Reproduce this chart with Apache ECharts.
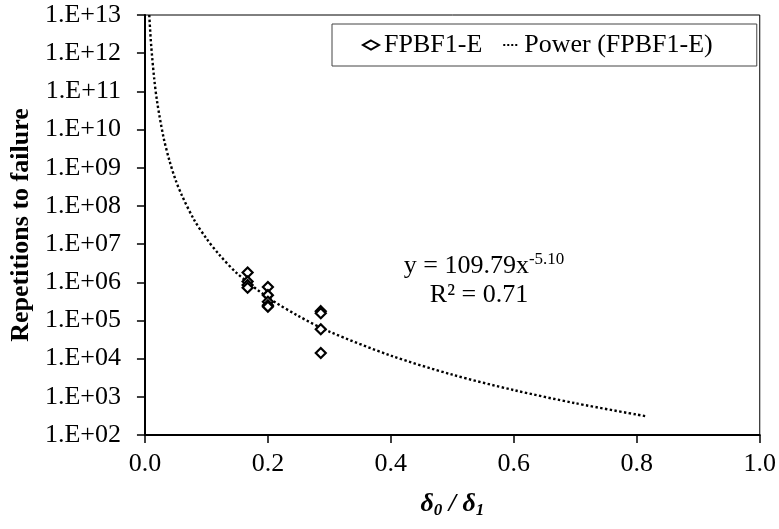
<!DOCTYPE html>
<html>
<head>
<meta charset="utf-8">
<script src="https://cdn.jsdelivr.net/npm/echarts@6/dist/echarts.min.js"></script>
<style>
html, body { margin: 0; padding: 0; background: #fff; }
#main { width: 779px; height: 529px; }
</style>
</head>
<body>
<div id="main"></div>
<script>
// measured points, delta0/delta1 vs repetitions
var testX = [0.167, 0.167, 0.167, 0.167, 0.2, 0.2, 0.2, 0.2, 0.2, 0.286, 0.286, 0.286, 0.286];
var testY = [1.8e6, 1.05e6, 8.5e5, 7.2e5, 7.5e5, 4.6e5, 3.1e5, 2.5e5, 2.3e5, 1.75e5, 1.55e5, 5.9e4, 1.4e4];

// trendline
var fitX = [0.007, 0.01, 0.015, 0.02, 0.03, 0.04, 0.05, 0.06, 0.08, 0.1, 0.12, 0.15, 0.2, 0.25, 0.3, 0.4, 0.5, 0.6, 0.7, 0.815];
var fitY = [1e13, 1.7e12, 2.2e11, 5.1e10, 6.5e9, 1.5e9, 4.7e8, 1.9e8, 4.3e7, 1.4e7, 5.5e6, 1.7e6, 4.0e5, 1.3e5, 5.1e4, 1.2e4, 3.8e3, 1.5e3, 680, 310];

var xTicks = [0, 0.2, 0.4, 0.6, 0.8, 1.0];
var legendNames = ['FPBF1-E', 'Power (FPBF1-E)'];

var pts = testX.map(function(x, i) { return [x, testY[i]] });
var fit = fitX.map(function(x, i) { return [x, fitY[i]] });

var font = 'Liberation Serif';
var chart = echarts.init(document.getElementById('main'));

var option = {
	backgroundColor: '#fff',
	animation: false,
	textStyle: { fontFamily: font, color: '#000' },
	grid: {
		left: 142, right: 19, top: 15, bottom: 94,
		show: true, borderColor: '#000', borderWidth: 1
	},
	legend: {
		left: 332, top: 24,
		padding: [8, 44, 8, 30],
		itemGap: 20,
		itemWidth: 16, itemHeight: 9,
		borderColor: '#444', borderWidth: 1,
		textStyle: { fontFamily: font, fontSize: 26, color: '#000' },
		data: [
			{ name: legendNames[0], icon: 'diamond', itemStyle: { color: '#fff', borderColor: '#000', borderWidth: 2 } },
			{ name: legendNames[1], itemStyle: { opacity: 0 }, lineStyle: { color: '#000', width: 2, type: [2, 2] } }
		]
	},
	xAxis: {
		type: 'value', min: xTicks[0], max: xTicks[xTicks.length - 1], interval: 0.2,
		axisLine: { onZero: false, lineStyle: { color: '#000', width: 2 } },
		axisTick: { inside: false, length: 8, lineStyle: { color: '#000', width: 1.5 } },
		splitLine: { show: false },
		axisLabel: {
			margin: 16, fontSize: 26, fontFamily: font, color: '#000',
			formatter: function(v) { return v.toFixed(1) }
		},
		name: '{d|δ}{s|0}{d| / δ}{s|1}',
		nameLocation: 'middle', nameGap: 55,
		nameTextStyle: {
			rich: {
				d: { fontSize: 26, fontWeight: 'bold', fontStyle: 'italic', fontFamily: font, color: '#000' },
				s: { fontSize: 17, fontWeight: 'bold', fontStyle: 'italic', fontFamily: font, color: '#000', padding: [12, 0, 0, 0] }
			}
		}
	},
	yAxis: {
		type: 'log', logBase: 10, min: 1e2, max: 1e13, interval: 1,
		axisLine: { onZero: false, lineStyle: { color: '#000', width: 2 } },
		axisTick: { inside: false, length: 8, lineStyle: { color: '#000', width: 1.5 } },
		splitLine: { show: false },
		axisLabel: {
			margin: 24, fontSize: 26, fontFamily: font, color: '#000',
			formatter: function(v) {
				var e = Math.round(Math.log10(v));
				return '1.E+' + (e < 10 ? '0' + e : e);
			}
		},
		name: 'Repetitions to failure',
		nameLocation: 'middle', nameGap: 100, nameRotate: 90,
		nameTextStyle: { fontSize: 26, fontWeight: 'bold', fontFamily: font, color: '#000' }
	},
	graphic: [
		{
			type: 'text',
			x: 484, y: 266,
			style: {
				text: '{a|y = 109.79x}{b|-5.10}',
				align: 'center', verticalAlign: 'middle',
				rich: {
					a: { fontSize: 26, fontFamily: font, fill: '#000' },
					b: { fontSize: 17, fontFamily: font, fill: '#000', padding: [0, 0, 13, 0] }
				}
			}
		},
		{
			type: 'text',
			x: 479, y: 295,
			style: {
				text: 'R² = 0.71', align: 'center', verticalAlign: 'middle',
				font: '26px "Liberation Serif"', fill: '#000'
			}
		}
	],
	series: [
		{
			name: legendNames[0],
			type: 'scatter',
			symbol: 'diamond',
			symbolSize: 10,
			z: 5,
			itemStyle: { color: '#fff', borderColor: '#000', borderWidth: 2.2, opacity: 1 },
			data: pts
		},
		{
			name: legendNames[1],
			type: 'line',
			smooth: 0.3,
			symbol: 'none',
			clip: true,
			z: 3,
			lineStyle: { color: '#000', width: 2.4, type: [2.4, 2.4] },
			itemStyle: { color: '#000' },
			data: fit
		}
	]
};

chart.setOption(option);
</script>
</body>
</html>
